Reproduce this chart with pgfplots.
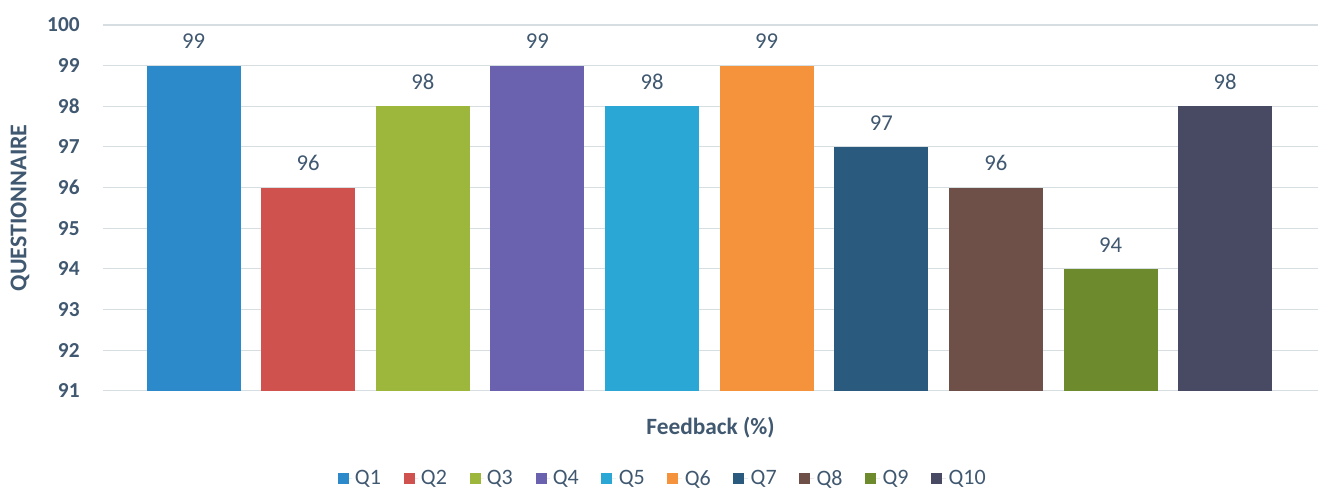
\documentclass[border=0pt]{standalone}
\usepackage{pgfplots}
\pgfplotsset{compat=1.18}
\usepackage{fontspec}
\setmainfont{Carlito}
\definecolor{txt}{HTML}{405870}
\definecolor{gridc}{HTML}{D6DEE2}
\definecolor{c1}{HTML}{2C89CA}
\definecolor{c2}{HTML}{CF524E}
\definecolor{c3}{HTML}{9CB73C}
\definecolor{c4}{HTML}{6A62AE}
\definecolor{c5}{HTML}{2AA7D4}
\definecolor{c6}{HTML}{F5933C}
\definecolor{c7}{HTML}{2A5A7E}
\definecolor{c8}{HTML}{6E5049}
\definecolor{c9}{HTML}{6D8A2C}
\definecolor{c10}{HTML}{474A62}
\begin{document}
\begin{tikzpicture}
\begin{axis}[
  scale only axis,
  width=911.25pt, height=274.3pt,
  ybar, bar shift=0pt, bar width=70.5pt,
  xmin=-0.79, xmax=9.81,
  ymin=91, ymax=100,
  ytick={91,...,100},
  xtick=\empty,
  ymajorgrids,
  grid style={gridc, line width=0.8pt},
  axis line style={draw=none},
  major tick length=0pt,
  /pgf/number format/assume math mode=true,
  yticklabel style={font=\bfseries\fontsize{16}{18}\selectfont, text=txt, xshift=-14pt},
  ylabel={QUESTIONNAIRE},
  ylabel style={at={(axis description cs:-0.0683,0.5)}, anchor=center, font=\bfseries\fontsize{18}{20}\selectfont, text=txt},
  xlabel={Feedback (\%)},
  xlabel style={at={(axis description cs:0.5,0)}, anchor=center, yshift=-27.75pt, font=\bfseries\fontsize{17.5}{20}\selectfont, text=txt},
  nodes near coords,
  every node near coord/.append style={font=\fontsize{17}{19}\selectfont, text=txt, yshift=9pt},
  legend columns=10,
  legend style={draw=none, fill=none, at={(0.4609,-0.2406)}, anchor=center,
    font=\fontsize{16.5}{18}\selectfont, text=txt,
    /tikz/every even column/.append style={column sep=15pt}},
  legend image code/.code={\fill[#1] (0pt,-4.1pt) rectangle (8.25pt,4.1pt);\path (0pt,0pt) -- (11pt,0pt);},
]
\addplot[fill=c1, draw=none] coordinates {(0,99)};
\addplot[fill=c2, draw=none] coordinates {(1,96)};
\addplot[fill=c3, draw=none] coordinates {(2,98)};
\addplot[fill=c4, draw=none] coordinates {(3,99)};
\addplot[fill=c5, draw=none] coordinates {(4,98)};
\addplot[fill=c6, draw=none] coordinates {(5,99)};
\addplot[fill=c7, draw=none] coordinates {(6,97)};
\addplot[fill=c8, draw=none] coordinates {(7,96)};
\addplot[fill=c9, draw=none] coordinates {(8,94)};
\addplot[fill=c10, draw=none] coordinates {(9,98)};
\legend{Q1,Q2,Q3,Q4,Q5,Q6,Q7,Q8,Q9,Q10}
\end{axis}
\pgfresetboundingbox
\path (-77.25pt,-75.2pt) rectangle (916.5pt,293.05pt);
\end{tikzpicture}
\end{document}
